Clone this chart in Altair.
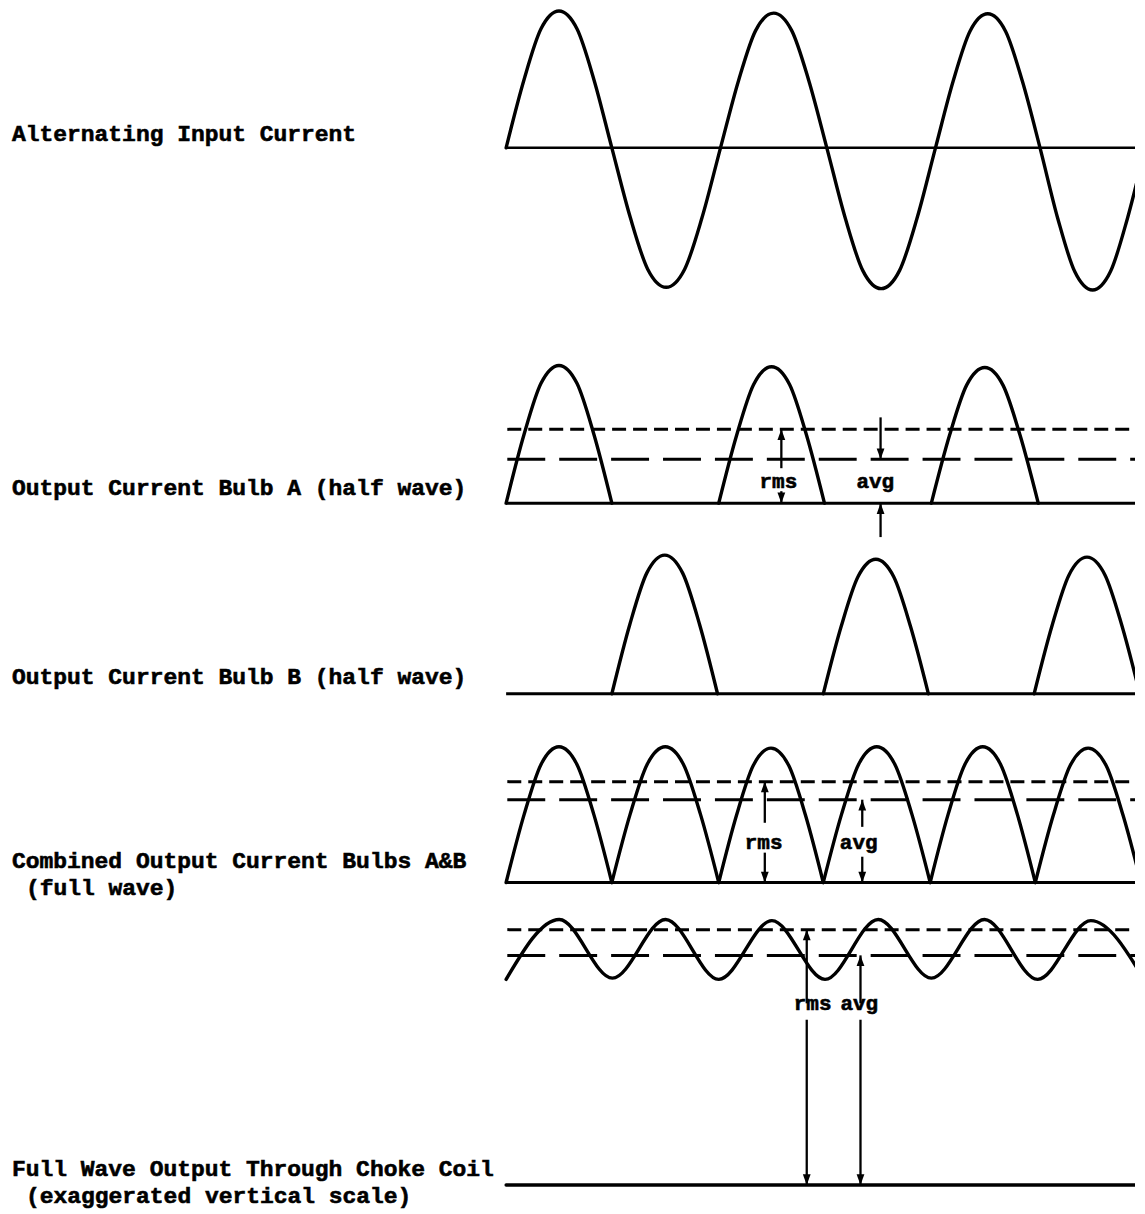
import altair as alt
import pandas as pd

# ------------------------------------------------------------------
# Values (x in electrical degrees, y in units of
# the peak current of each trace)
# ------------------------------------------------------------------
HUMP_FRAC = [0.0, 0.17, 0.33, 0.5, 0.67, 0.83, 1.0]      # position inside a half cycle
HUMP_SHAPE = [0.0, 0.50, 0.87, 1.0, 0.87, 0.50, 0.0]     # relative height

# Alternating input current
AC_ZERO_DEG = [0, 179, 363, 543, 727, 904, 1082]
AC_PEAK = [1.00, -1.02, 0.985, -1.03, 0.98, -1.04]

# Output current bulb A (half wave)
A_START = [0, 360, 720]
A_END = [179, 539, 901]
A_PEAK = [1.00, 0.99, 0.985]
A_RMS, A_AVG = 0.536, 0.319

# Output current bulb B (half wave)
B_START = [179, 537, 894]
B_END = [358, 715, 1073]
B_PEAK = [1.00, 0.97, 0.985]

# Combined output current (full wave)
FW_BOUND = [0, 179, 360, 537, 718, 896, 1075]
FW_PEAK = [1.00, 1.00, 0.99, 1.00, 1.00, 0.99]
FW_RMS, FW_AVG = 0.743, 0.610

# Ripple after choke (exaggerated)
RIPPLE_DEG = [0, 90, 180, 270, 360, 450, 540, 630, 720, 810, 900, 990, 1080]
RIPPLE_VAL = [0.0, 1.0, 0.02, 1.0, 0.0, 0.98, 0.0, 1.0, 0.02, 1.0, 0.0, 0.98, 0.0]
RP_RMS, RP_AVG = 0.83, 0.40

# Annotation arrows: (x deg, tail, tip)
A_ARROWS = [(466, 0.254, A_RMS), (466, 0.087, 0.0), (634, 0.623, A_AVG), (634, -0.246, 0.0)]
A_TEXT = [("rms", 461, 0.152), ("avg", 625, 0.152)]
FW_ARROWS = [(438, 0.44, FW_RMS), (438, 0.22, 0.0), (603, 0.41, FW_AVG), (603, 0.19, 0.0)]
FW_TEXT = [("rms", 436, 0.29), ("avg", 597, 0.29)]
RP_ARROWS = [(509, -0.40, RP_RMS), (600, -0.40, RP_AVG)]
DC_ARROWS = [(509, 0.89, 0.0), (600, 0.89, 0.0)]
DC_TEXT = [("rms", 519, 0.973), ("avg", 598, 0.973)]

LABELS = {
    "ac": [("Alternating Input Current", 0.102)],
    "a": [("Output Current Bulb A (half wave)", 0.109)],
    "b": [("Output Current Bulb B (half wave)", 0.122)],
    "fw": [("Combined Output Current Bulbs A&B", 0.162)],
    "dc": [("Full Wave Output Through Choke Coil", 0.086)],
}
SUBLABELS = {
    "fw": [("(full wave)", -0.037)],
    "dc": [("(exaggerated vertical scale)", -0.059)],
}

# ------------------------------------------------------------------
W = 1129
X_DOMAIN = [-843.4, 1064.8]
END = X_DOMAIN[1]
FONT = "Liberation Mono"
UP = "M0,0L-0.8,2.2L0.8,2.2Z"
DOWN = "M0,0L-0.8,-2.2L0.8,-2.2Z"


def hump(series, start, end, peak):
    return [
        {"series": series, "deg": start + f * (end - start), "val": peak * s}
        for f, s in zip(HUMP_FRAC, HUMP_SHAPE)
    ]


def xq(field="deg"):
    return alt.X(f"{field}:Q", scale=alt.Scale(domain=X_DOMAIN, nice=False, zero=False), axis=None)


def yq(dom, field="val"):
    return alt.Y(f"{field}:Q", scale=alt.Scale(domain=dom, nice=False, zero=False), axis=None)


def label_layer(dom, labels, xpix):
    df = pd.DataFrame([{"t": t, "val": v} for t, v in labels])
    return (
        alt.Chart(df).mark_text(font=FONT, fontWeight="bold", fontSize=23, align="left",
                                baseline="middle", color="black",
                                stroke="black", strokeWidth=0.6)
        .encode(x=alt.value(xpix), y=yq(dom), text="t:N")
    )


def panel(dom, h, waves, flats=None, flat_w=3.0, dashes=None, arrows=None, texts=None,
          labels=None, sublabels=None):
    layers = []
    layers.append(
        alt.Chart(pd.DataFrame(waves))
        .mark_line(interpolate="monotone", color="black", strokeWidth=3.4, clip=True,
                   strokeCap="round", strokeJoin="round")
        .encode(x=xq(), y=yq(dom), detail="series:N")
    )
    if flats:
        df = pd.DataFrame([{"deg": 0, "deg2": END, "val": v} for v in flats])
        layers.append(
            alt.Chart(df).mark_rule(color="black", strokeWidth=flat_w)
            .encode(x=xq(), x2=alt.X2("deg2:Q"), y=yq(dom))
        )
    if dashes:
        for v, pattern in dashes:
            df = pd.DataFrame([{"deg": 2, "deg2": END, "val": v}])
            layers.append(
                alt.Chart(df).mark_rule(color="black", strokeWidth=3, strokeDash=pattern)
                .encode(x=xq(), x2=alt.X2("deg2:Q"), y=yq(dom))
            )
    if arrows:
        df = pd.DataFrame([{"deg": d, "val": t, "tip": p} for d, t, p in arrows])
        layers.append(
            alt.Chart(df).mark_rule(color="black", strokeWidth=2.3)
            .encode(x=xq(), y=yq(dom), y2=alt.Y2("tip:Q"))
        )
        up = df[df["tip"] > df["val"]]
        dn = df[df["tip"] < df["val"]]
        if len(up):
            layers.append(
                alt.Chart(up).mark_point(shape=UP, filled=True, size=95, color="black", opacity=1)
                .encode(x=xq(), y=yq(dom, "tip"))
            )
        if len(dn):
            layers.append(
                alt.Chart(dn).mark_point(shape=DOWN, filled=True, size=95, color="black", opacity=1)
                .encode(x=xq(), y=yq(dom, "tip"))
            )
    if texts:
        df = pd.DataFrame([{"t": t, "deg": d, "val": v} for t, d, v in texts])
        layers.append(
            alt.Chart(df).mark_text(font=FONT, fontWeight="bold", fontSize=21, align="center",
                                    baseline="middle", color="black", stroke="black", strokeWidth=0.6)
            .encode(x=xq(), y=yq(dom), text="t:N")
        )
    if labels:
        layers.append(label_layer(dom, labels, 4))
    if sublabels:
        layers.append(label_layer(dom, sublabels, 18))
    return alt.layer(*layers).properties(width=W, height=h)


# AC wave: one continuous trace
ac_rows = []
for i, pk in enumerate(AC_PEAK):
    rows = hump("ac", AC_ZERO_DEG[i], AC_ZERO_DEG[i + 1], pk)
    ac_rows.extend(rows if i == 0 else rows[1:])

a_rows = []
for i, (s, e, p) in enumerate(zip(A_START, A_END, A_PEAK)):
    a_rows.extend(hump(f"a{i}", s, e, p))

b_rows = []
for i, (s, e, p) in enumerate(zip(B_START, B_END, B_PEAK)):
    b_rows.extend(hump(f"b{i}", s, e, p))

fw_rows = []
for i, p in enumerate(FW_PEAK):
    fw_rows.extend(hump(f"f{i}", FW_BOUND[i], FW_BOUND[i + 1], p))

rp_rows = [{"series": "r", "deg": d, "val": v} for d, v in zip(RIPPLE_DEG, RIPPLE_VAL)]

SHORT = [14, 7]
LONG = [38, 14]

p1 = panel([-1.3358, 1.0146], 322, ac_rows, flats=[0.0], flat_w=2.6, labels=LABELS["ac"])
p2 = panel([-0.3043, 1.2536], 215, a_rows, flats=[0.0],
           dashes=[(A_RMS, SHORT), (A_AVG, LONG)], arrows=A_ARROWS, texts=A_TEXT, labels=LABELS["a"])
p3 = panel([-0.1151, 1.0719], 165, b_rows, flats=[0.0], labels=LABELS["b"])
p4 = panel([-0.1618, 1.2721], 195, fw_rows, flats=[0.0],
           dashes=[(FW_RMS, SHORT), (FW_AVG, LONG)], arrows=FW_ARROWS, texts=FW_TEXT,
           labels=LABELS["fw"], sublabels=SUBLABELS["fw"])
p5 = panel([-0.3333, 1.25], 95, rp_rows,
           dashes=[(RP_RMS, SHORT), (RP_AVG, LONG)], arrows=RP_ARROWS)
p6 = panel([-0.0645, 1.0], 198, [{"series": "dc", "deg": 0, "val": 0.0}, {"series": "dc", "deg": END, "val": 0.0}],
           arrows=DC_ARROWS, texts=DC_TEXT, labels=LABELS["dc"], sublabels=SUBLABELS["dc"])

chart = (
    alt.vconcat(p1, p2, p3, p4, p5, p6, spacing=0, bounds="flush")
    .resolve_scale(x="independent", y="independent")
    .properties(padding=0, background="white")
    .configure_view(stroke=None)
)

chart.save("out.html", embed_options={"renderer": "svg", "actions": False})
